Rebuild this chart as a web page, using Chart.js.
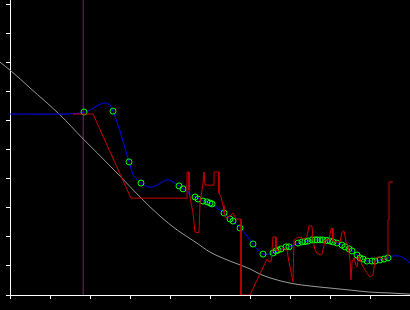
<!DOCTYPE html>
<html>
<head>
<meta charset="utf-8">
<script src="https://cdn.jsdelivr.net/npm/chart.js@4"></script>
<style>
  html, body { margin: 0; padding: 0; background: #000; }
  #grafico { display: block; }
</style>
</head>
<body>
<canvas id="grafico" width="410" height="310"></canvas>
<script>
// Curva gris (envolvente)
let grisX = [-0.25, 0.03, 0.5, 1.25, 1.83, 2.18, 2.75, 3.25, 3.75, 4.18, 4.63, 5, 5.5, 6, 6.25, 6.5, 7, 7.5, 8, 8.5, 9, 9.5, 10];
let grisY = [8.03, 7.72, 7.14, 6.21, 5.38, 4.90, 4.10, 3.38, 2.72, 2.24, 1.83, 1.48, 1.17, 0.90, 0.72, 0.59, 0.41, 0.31, 0.24, 0.17, 0.10, 0.07, 0.03];

// Curva azul (suavizada)
let azulX = [0, 1.375, 1.625, 1.825, 2.0, 2.175, 2.35, 2.475, 2.575, 2.7, 2.825, 2.925, 2.975, 3.075, 3.175, 3.275, 3.5, 3.7, 3.925, 4.075, 4.225, 4.325, 4.425, 4.625, 4.725, 4.825, 4.925, 5.0, 5.075, 5.2, 5.35, 5.5, 5.575, 5.75, 5.925, 6.075, 6.2, 6.325, 6.45, 6.575, 6.7, 6.825, 6.975, 7.1, 7.225, 7.325, 7.45, 7.575, 7.75, 7.925, 8.075, 8.175, 8.3, 8.375, 8.475, 8.55, 8.675, 8.75, 8.825, 8.925, 9.05, 9.15, 9.25, 9.35, 9.45, 9.575, 9.75, 9.875, 10];
let azulY = [6.24, 6.24, 6.26, 6.29, 6.38, 6.52, 6.62, 6.57, 6.34, 5.86, 5.31, 4.83, 4.59, 4.17, 3.97, 3.86, 3.72, 3.81, 3.97, 3.90, 3.76, 3.66, 3.55, 3.38, 3.31, 3.24, 3.21, 3.17, 3.10, 2.97, 2.83, 2.62, 2.55, 2.31, 2.03, 1.76, 1.55, 1.41, 1.41, 1.45, 1.53, 1.60, 1.66, 1.72, 1.79, 1.83, 1.86, 1.90, 1.90, 1.88, 1.83, 1.79, 1.72, 1.66, 1.59, 1.52, 1.38, 1.28, 1.24, 1.17, 1.17, 1.17, 1.21, 1.24, 1.28, 1.34, 1.34, 1.24, 1.10];

// Puntos verdes (circulos)
let verdeX = [1.85, 2.575, 2.975, 3.275, 4.225, 4.325, 4.625, 4.7, 4.825, 4.925, 5.0, 5.05, 5.35, 5.5, 5.575, 5.75, 6.075, 6.325, 6.575, 6.65, 6.7, 6.775, 6.9, 6.975, 7.2, 7.3, 7.375, 7.45, 7.55, 7.625, 7.675, 7.75, 7.825, 7.925, 8.0, 8.075, 8.175, 8.3, 8.375, 8.475, 8.55, 8.675, 8.75, 8.825, 8.925, 9.05, 9.125, 9.25, 9.35, 9.45];
let verdeY = [6.31, 6.34, 4.59, 3.86, 3.76, 3.66, 3.38, 3.31, 3.24, 3.21, 3.17, 3.14, 2.83, 2.62, 2.55, 2.31, 1.76, 1.41, 1.45, 1.52, 1.55, 1.59, 1.66, 1.66, 1.79, 1.83, 1.84, 1.86, 1.90, 1.90, 1.90, 1.90, 1.90, 1.88, 1.86, 1.83, 1.79, 1.72, 1.66, 1.59, 1.52, 1.38, 1.28, 1.24, 1.17, 1.17, 1.17, 1.21, 1.24, 1.28];

// Serie roja (medida con ruido)
let rojoX = [1.575, 2.075, 3.025, 4.425, 4.425, 4.475, 4.475, 4.525, 4.575, 4.625, 4.725, 4.75, 4.775, 4.825, 4.85, 4.875, 5.1, 5.1, 5.225, 5.225, 5.275, 5.325, 5.35, 5.4, 5.5, 5.575, 5.65, 5.775, 5.775, 6.0, 6.425, 6.475, 6.525, 6.55, 6.575, 6.65, 6.65, 6.725, 6.85, 6.925, 6.975, 7.025, 7.075, 7.1, 7.175, 7.225, 7.3, 7.35, 7.425, 7.475, 7.55, 7.575, 7.625, 7.675, 7.75, 7.8, 7.85, 7.875, 7.975, 8.025, 8.05, 8.075, 8.15, 8.25, 8.3, 8.35, 8.4, 8.45, 8.5, 8.525, 8.55, 8.6, 8.65, 8.675, 8.725, 8.775, 8.825, 8.875, 8.925, 9.0, 9.075, 9.125, 9.175, 9.25, 9.325, 9.4, 9.45, 9.45, 9.475, 9.475, 9.575];
let rojoY = [6.24, 6.24, 3.34, 3.34, 4.24, 4.24, 3.62, 3.17, 2.83, 2.17, 2.14, 3.17, 3.38, 3.86, 4.24, 3.79, 3.79, 4.24, 4.24, 3.52, 3.38, 3.10, 2.86, 2.66, 2.72, 2.83, 2.62, 2.62, 0, 0, 1.24, 1.14, 1.14, 1.55, 2.0, 2.0, 1.55, 1.52, 1.62, 1.55, 1.14, 0.79, 0.45, 1.90, 1.97, 2.0, 1.97, 1.90, 2.03, 2.38, 2.38, 1.90, 1.55, 1.45, 1.38, 1.41, 1.72, 1.90, 1.90, 2.28, 2.31, 1.86, 1.83, 1.83, 2.17, 2.21, 1.83, 1.69, 1.21, 0.52, 1.14, 1.28, 1.03, 0.97, 1.34, 1.14, 0.97, 0.86, 0.76, 0.62, 0.69, 1.21, 1.31, 1.31, 1.21, 1.28, 1.31, 2.59, 2.59, 3.90, 3.90];

// Linea vertical de referencia
let marcaX = 1.83;

let yMax = 10.172;

function puntos(xs, ys) {
    return xs.map((x, i) => ({ x: x, y: ys[i] }));
}

let ejeComun = {
    ticks: { display: false, stepSize: 1, includeBounds: false },
    grid: { display: true, drawOnChartArea: false, drawTicks: true, tickLength: 4, color: '#ffffff' },
    border: { display: true, color: '#ffffff', width: 1 }
};

let canvas = document.getElementById('grafico');
new Chart(canvas, {
    type: 'scatter',
    data: {
        datasets: [
            {
                data: puntos(rojoX, rojoY),
                showLine: true, borderColor: '#cc0000', borderWidth: 1,
                pointRadius: 0, tension: 0, order: 1
            },
            {
                data: puntos(verdeX, verdeY),
                showLine: false, pointStyle: 'circle', pointRadius: 3,
                pointBorderWidth: 1, pointBorderColor: '#00ff00',
                pointBackgroundColor: 'rgba(0,0,0,0)', order: 2
            },
            {
                data: puntos(azulX, azulY),
                showLine: true, borderColor: '#0000ff', borderWidth: 1,
                pointRadius: 0, tension: 0.4, order: 3
            },
            {
                data: puntos(grisX, grisY),
                showLine: true, borderColor: '#9a9a9a', borderWidth: 1,
                pointRadius: 0, cubicInterpolationMode: 'monotone', clip: false, order: 4
            },
            {
                data: [{ x: marcaX, y: 0 }, { x: marcaX, y: yMax }],
                showLine: true, borderColor: '#6e2a6e', borderWidth: 1,
                pointRadius: 0, order: 5
            }
        ]
    },
    options: {
        responsive: false,
        animation: false,
        layout: { padding: 0, autoPadding: false },
        plugins: { legend: { display: false }, tooltip: { enabled: false } },
        scales: {
            x: Object.assign({}, ejeComun, {
                type: 'linear', min: 0, max: 10,
                afterFit: s => { s.height = 15; }
            }),
            y: Object.assign({}, ejeComun, {
                type: 'linear', min: 0, max: yMax,
                afterFit: s => { s.width = 10; }
            })
        }
    }
});
</script>
</body>
</html>
